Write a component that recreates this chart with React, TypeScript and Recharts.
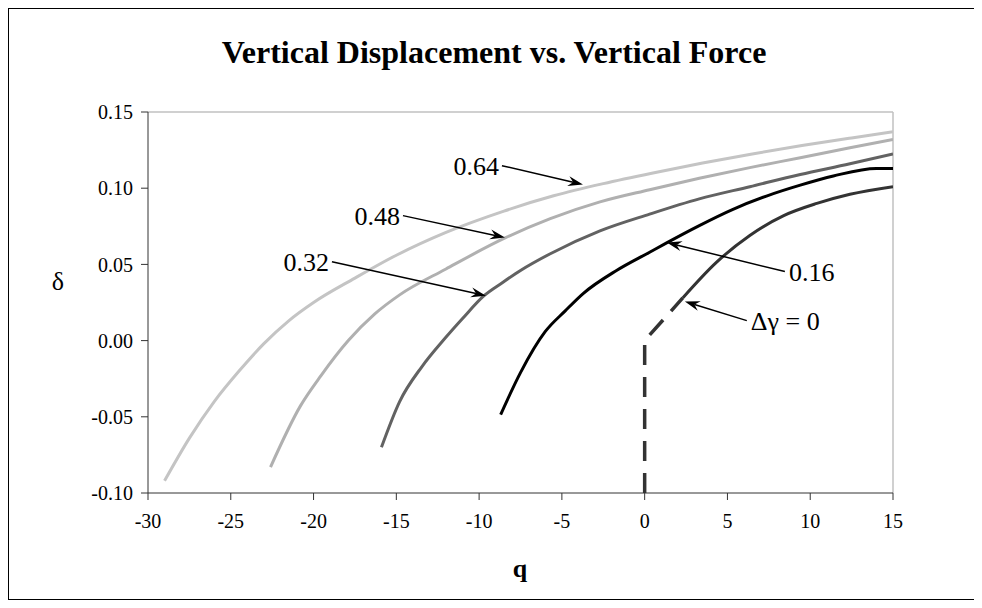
import React from 'react';
import { LineChart, Line, XAxis, YAxis, ReferenceLine } from 'recharts';

// q values and vertical displacement for each Δγ level
const Q_064 = [-29.0, -27.5, -26.0, -24.5, -23.0, -21.5, -20.0, -17.5, -15.0, -12.0, -8.5, -5.5, -2.5, 0.5, 3.5, 6.5, 9.5, 12.5, 15];
const D_064 = [-0.092, -0.064, -0.04, -0.02, -0.002, 0.013, 0.025, 0.041, 0.056, 0.071, 0.085, 0.095, 0.103, 0.11, 0.1165, 0.1225, 0.128, 0.133, 0.137];

const Q_048 = [-22.6, -20.8, -19.55, -17.9, -16.3, -14.8, -12.0, -8.4, -5.7, -2.7, 0.3, 3.3, 6.35, 9.4, 12.4, 15];
const D_048 = [-0.083, -0.043, -0.023, 0.0, 0.0175, 0.03, 0.047, 0.0675, 0.08, 0.091, 0.099, 0.1065, 0.1135, 0.12, 0.1265, 0.132];

const Q_032 = [-15.9, -14.8, -13.45, -12.1, -11.0, -9.7, -8.6, -7.5, -5.7, -2.7, 0.3, 3.3, 6.35, 9.4, 12.4, 15];
const D_032 = [-0.07, -0.04, -0.017, 0.001, 0.0145, 0.0295, 0.038, 0.046, 0.057, 0.072, 0.083, 0.093, 0.101, 0.109, 0.116, 0.1225];

const Q_016 = [-8.7, -7.5, -6.0, -4.8, -3.7, -1.7, 0.3, 1.3, 3.3, 5.3, 7.4, 9.4, 11.4, 14.0, 15];
const D_016 = [-0.0486, -0.021, 0.006, 0.0195, 0.031, 0.046, 0.058, 0.064, 0.0755, 0.086, 0.095, 0.102, 0.108, 0.113, 0.113];

const Q_000 = [2.3, 4.3, 6.35, 8.4, 10.4, 12.4, 15];
const D_000 = [0.028, 0.051, 0.069, 0.082, 0.09, 0.096, 0.101];

// unloading branch of the Δγ = 0 curve, drawn dashed
const Q_000_DASH = [0, 0, 2.3];
const D_000_DASH = [-0.1, 0.0, 0.028];

const X_TICKS = [-30, -25, -20, -15, -10, -5, 0, 5, 10, 15];
const Y_TICKS = [-0.1, -0.05, 0, 0.05, 0.1, 0.15];

// callouts: label, arrow start (q, δ), arrow tip (q, δ)
const CALLOUT_LABELS = ['0.64', '0.48', '0.32', '0.16', 'Δγ = 0'];
const CALLOUT_FROM = [[-8.62, 0.1148], [-14.6, 0.082], [-18.89, 0.0518], [8.47, 0.0453], [6.17, 0.0131]];
const CALLOUT_TO = [[-3.73, 0.1024], [-8.44, 0.0676], [-9.59, 0.0295], [1.34, 0.0643], [2.43, 0.0256]];

const zip = (qs: number[], ds: number[]) => qs.map((q, i) => ({ q, d: ds[i] }));

const FONT = "'Liberation Serif', 'Times New Roman', serif";

const Arrow = (label: string) => (props: any) => {
  const { x1, y1, x2, y2 } = props;
  const dx = x2 - x1;
  const dy = y2 - y1;
  const len = Math.sqrt(dx * dx + dy * dy);
  const ux = dx / len;
  const uy = dy / len;
  const px = -uy;
  const py = ux;
  const head = 15;
  const half = 5;
  const notch = 10;
  const bx = x2 - ux * head;
  const by = y2 - uy * head;
  const nx = x2 - ux * notch;
  const ny = y2 - uy * notch;
  const pts = `${x2},${y2} ${bx + px * half},${by + py * half} ${nx},${ny} ${bx - px * half},${by - py * half}`;
  const onLeft = dx > 0;
  return (
    <g>
      <line x1={x1} y1={y1} x2={nx} y2={ny} stroke="#000" strokeWidth={1.5} />
      <polygon points={pts} fill="#000" />
      <text
        x={onLeft ? x1 - 3 : x1 + 4}
        y={y1 + 1}
        textAnchor={onLeft ? 'end' : 'start'}
        dominantBaseline="central"
        fontFamily={FONT}
        fontSize={26}
        fill="#000"
      >
        {label}
      </text>
    </g>
  );
};

const App = () => {
  return (
    <div
      style={{
        position: 'relative',
        width: 972,
        height: 592,
        boxSizing: 'border-box',
        border: '1px solid #000',
        background: '#fff',
      }}
    >
      <div
        style={{
          position: 'absolute',
          left: 0,
          width: 970,
          top: 24,
          textAlign: 'center',
          fontFamily: FONT,
          fontWeight: 'bold',
          fontSize: 32,
          lineHeight: '38px',
        }}
      >
        Vertical Displacement vs. Vertical Force
      </div>
      <div
        style={{
          position: 'absolute',
          left: 37,
          top: 256,
          width: 24,
          textAlign: 'center',
          fontFamily: FONT,
          fontSize: 26,
          lineHeight: '34px',
        }}
      >
        δ
      </div>
      <div
        style={{
          position: 'absolute',
          left: 491,
          top: 543,
          width: 40,
          textAlign: 'center',
          fontFamily: FONT,
          fontWeight: 'bold',
          fontSize: 26,
          lineHeight: '34px',
        }}
      >
        q
      </div>

      <LineChart width={970} height={590} margin={{ top: 103, right: 86, bottom: 66, left: 79 }}>
        <XAxis
          dataKey="q"
          type="number"
          domain={[-30, 15]}
          ticks={X_TICKS}
          allowDataOverflow
          height={40}
          stroke="#333"
          tickSize={7}
          tickMargin={14}
          tick={{ fill: '#000', fontFamily: FONT, fontSize: 20 }}
        />
        <YAxis
          type="number"
          domain={[-0.1, 0.15]}
          ticks={Y_TICKS}
          allowDataOverflow
          width={60}
          stroke="#333"
          tickSize={7}
          tickMargin={8}
          tickFormatter={(v: number) => v.toFixed(2)}
          tick={{ fill: '#000', fontFamily: FONT, fontSize: 20 }}
        />
        <ReferenceLine y={0.15} stroke="#c0c0c0" strokeWidth={1.5} />
        <ReferenceLine x={15} stroke="#c0c0c0" strokeWidth={1.5} />

        <Line data={zip(Q_064, D_064)} dataKey="d" type="monotone" stroke="#c4c4c4" strokeWidth={3} dot={false} activeDot={false} isAnimationActive={false} />
        <Line data={zip(Q_048, D_048)} dataKey="d" type="monotone" stroke="#b0b0b0" strokeWidth={3} dot={false} activeDot={false} isAnimationActive={false} />
        <Line data={zip(Q_032, D_032)} dataKey="d" type="monotone" stroke="#626262" strokeWidth={3} dot={false} activeDot={false} isAnimationActive={false} />
        <Line data={zip(Q_016, D_016)} dataKey="d" type="monotone" stroke="#000" strokeWidth={3} dot={false} activeDot={false} isAnimationActive={false} />
        <Line data={zip(Q_000, D_000)} dataKey="d" type="monotone" stroke="#333" strokeWidth={3} dot={false} activeDot={false} isAnimationActive={false} />
        <Line data={zip(Q_000_DASH, D_000_DASH)} dataKey="d" type="linear" stroke="#333" strokeWidth={3.5} strokeDasharray="20 12" dot={false} activeDot={false} isAnimationActive={false} />

        {CALLOUT_LABELS.map((label, i) => (
          <ReferenceLine
            key={label}
            segment={[
              { x: CALLOUT_FROM[i][0], y: CALLOUT_FROM[i][1] },
              { x: CALLOUT_TO[i][0], y: CALLOUT_TO[i][1] },
            ]}
            shape={Arrow(label)}
          />
        ))}
      </LineChart>
    </div>
  );
};

export default App;
